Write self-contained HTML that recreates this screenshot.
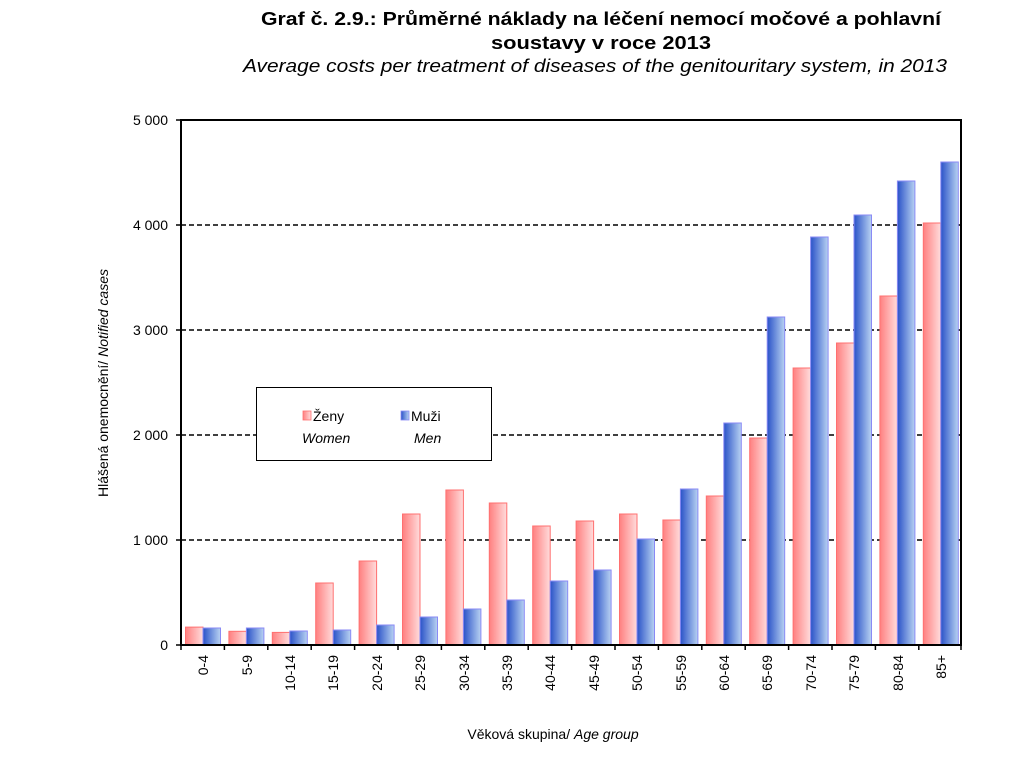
<!DOCTYPE html>
<html><head><meta charset="utf-8"><style>
body{margin:0;background:#fff;}
svg{display:block;font-family:"Liberation Sans",Arial,sans-serif;}
</style></head><body>
<svg width="1024" height="768" viewBox="0 0 1024 768" xmlns="http://www.w3.org/2000/svg">
<defs>
<linearGradient id="gw" x1="0" x2="1" y1="0" y2="0"><stop offset="0" stop-color="#ff8080"/><stop offset="1" stop-color="#ffdcdc"/></linearGradient>
<linearGradient id="gm" x1="0" x2="1" y1="0" y2="0"><stop offset="0" stop-color="#2a52c8"/><stop offset="1" stop-color="#b8d2f2"/></linearGradient>
</defs>
<text x="601" y="25" text-anchor="middle" font-size="18" font-weight="bold" textLength="680" lengthAdjust="spacingAndGlyphs">Graf č. 2.9.: Průměrné náklady na léčení nemocí močové a pohlavní</text>
<text x="601" y="49" text-anchor="middle" font-size="18" font-weight="bold" textLength="220" lengthAdjust="spacingAndGlyphs">soustavy v roce 2013</text>
<text x="595" y="72" text-anchor="middle" font-size="18" font-style="italic" textLength="704" lengthAdjust="spacingAndGlyphs">Average costs per treatment of diseases of the genitouritary system, in 2013</text>

<g stroke="#000" stroke-width="1.5" stroke-dasharray="5,3">
<line x1="181" y1="540" x2="961" y2="540"/><line x1="181" y1="435" x2="961" y2="435"/><line x1="181" y1="330" x2="961" y2="330"/><line x1="181" y1="225" x2="961" y2="225"/>
</g>

<g stroke="#ff7070" stroke-width="1" fill="url(#gw)">
<rect x="185.5" y="627.1" width="17.5" height="17.9"/>
<rect x="228.9" y="631.3" width="17.5" height="13.7"/>
<rect x="272.3" y="632.4" width="17.5" height="12.6"/>
<rect x="315.7" y="583" width="17.5" height="62"/>
<rect x="359.1" y="561" width="17.5" height="84"/>
<rect x="402.5" y="514" width="17.5" height="131"/>
<rect x="445.9" y="490" width="17.5" height="155"/>
<rect x="489.3" y="503" width="17.5" height="142"/>
<rect x="532.7" y="526" width="17.5" height="119"/>
<rect x="576.1" y="521" width="17.5" height="124"/>
<rect x="619.5" y="514" width="17.5" height="131"/>
<rect x="662.9" y="520" width="17.5" height="125"/>
<rect x="706.3" y="496" width="17.5" height="149"/>
<rect x="749.7" y="438" width="17.5" height="207"/>
<rect x="793.1" y="368" width="17.5" height="277"/>
<rect x="836.5" y="343" width="17.5" height="302"/>
<rect x="879.9" y="296" width="17.5" height="349"/>
<rect x="923.3" y="223" width="17.5" height="422"/>
</g>
<g stroke="#8a8af5" stroke-width="1" fill="url(#gm)">
<rect x="203" y="628" width="17.5" height="17"/>
<rect x="246.4" y="628" width="17.5" height="17"/>
<rect x="289.8" y="631" width="17.5" height="14"/>
<rect x="333.2" y="630" width="17.5" height="15"/>
<rect x="376.6" y="625" width="17.5" height="20"/>
<rect x="420" y="617" width="17.5" height="28"/>
<rect x="463.4" y="609" width="17.5" height="36"/>
<rect x="506.8" y="600" width="17.5" height="45"/>
<rect x="550.2" y="581" width="17.5" height="64"/>
<rect x="593.6" y="570" width="17.5" height="75"/>
<rect x="637" y="539" width="17.5" height="106"/>
<rect x="680.4" y="489" width="17.5" height="156"/>
<rect x="723.8" y="423" width="17.5" height="222"/>
<rect x="767.2" y="317" width="17.5" height="328"/>
<rect x="810.6" y="237" width="17.5" height="408"/>
<rect x="854" y="215" width="17.5" height="430"/>
<rect x="897.4" y="181" width="17.5" height="464"/>
<rect x="940.8" y="162" width="17.5" height="483"/>
</g>

<rect x="181" y="120" width="780" height="525" fill="none" stroke="#000" stroke-width="2"/>
<g stroke="#000" stroke-width="1.5">
<line x1="176" y1="120" x2="181" y2="120"/><line x1="176" y1="225" x2="181" y2="225"/><line x1="176" y1="330" x2="181" y2="330"/><line x1="176" y1="435" x2="181" y2="435"/><line x1="176" y1="540" x2="181" y2="540"/><line x1="176" y1="645" x2="181" y2="645"/>
<line x1="181" y1="645" x2="181" y2="650"/><line x1="224.4" y1="645" x2="224.4" y2="650"/><line x1="267.8" y1="645" x2="267.8" y2="650"/><line x1="311.2" y1="645" x2="311.2" y2="650"/><line x1="354.6" y1="645" x2="354.6" y2="650"/><line x1="398" y1="645" x2="398" y2="650"/><line x1="441.4" y1="645" x2="441.4" y2="650"/><line x1="484.8" y1="645" x2="484.8" y2="650"/><line x1="528.2" y1="645" x2="528.2" y2="650"/><line x1="571.6" y1="645" x2="571.6" y2="650"/><line x1="615" y1="645" x2="615" y2="650"/><line x1="658.4" y1="645" x2="658.4" y2="650"/><line x1="701.8" y1="645" x2="701.8" y2="650"/><line x1="745.2" y1="645" x2="745.2" y2="650"/><line x1="788.6" y1="645" x2="788.6" y2="650"/><line x1="832" y1="645" x2="832" y2="650"/><line x1="875.4" y1="645" x2="875.4" y2="650"/><line x1="918.8" y1="645" x2="918.8" y2="650"/><line x1="961" y1="645" x2="961" y2="650"/>
</g>

<g font-size="14" text-anchor="end">
<text x="168" y="125">5 000</text><text x="168" y="230">4 000</text><text x="168" y="335">3 000</text><text x="168" y="440">2 000</text><text x="168" y="545">1 000</text><text x="168" y="650">0</text>
</g>
<g font-size="14" text-anchor="end">
<text transform="translate(208,655) rotate(-90)">0-4</text>
<text transform="translate(252,655) rotate(-90)">5-9</text>
<text transform="translate(295,655) rotate(-90)">10-14</text>
<text transform="translate(338,655) rotate(-90)">15-19</text>
<text transform="translate(382,655) rotate(-90)">20-24</text>
<text transform="translate(425,655) rotate(-90)">25-29</text>
<text transform="translate(469,655) rotate(-90)">30-34</text>
<text transform="translate(512,655) rotate(-90)">35-39</text>
<text transform="translate(555,655) rotate(-90)">40-44</text>
<text transform="translate(599,655) rotate(-90)">45-49</text>
<text transform="translate(642,655) rotate(-90)">50-54</text>
<text transform="translate(686,655) rotate(-90)">55-59</text>
<text transform="translate(729,655) rotate(-90)">60-64</text>
<text transform="translate(772,655) rotate(-90)">65-69</text>
<text transform="translate(816,655) rotate(-90)">70-74</text>
<text transform="translate(859,655) rotate(-90)">75-79</text>
<text transform="translate(903,655) rotate(-90)">80-84</text>
<text transform="translate(946,655) rotate(-90)">85+</text>
</g>
<text x="553" y="739" text-anchor="middle" font-size="14">Věková skupina/ <tspan font-style="italic">Age group</tspan></text>
<text transform="translate(108,383) rotate(-90)" text-anchor="middle" font-size="14">Hlášená onemocnění/  <tspan font-style="italic">Notified cases</tspan></text>

<rect x="256.5" y="387.5" width="235" height="73" fill="#fff" stroke="#000" stroke-width="1"/>
<rect x="303" y="411" width="8" height="9" fill="url(#gw)" stroke="#ff7070" stroke-width="0.8"/>
<rect x="401" y="411" width="8" height="9" fill="url(#gm)" stroke="#8a8af5" stroke-width="0.8"/>
<g font-size="14">
<text x="313" y="421">Ženy</text><text x="302" y="443" font-style="italic">Women</text>
<text x="411" y="421">Muži</text><text x="414" y="443" font-style="italic">Men</text>
</g>
</svg>
</body></html>
